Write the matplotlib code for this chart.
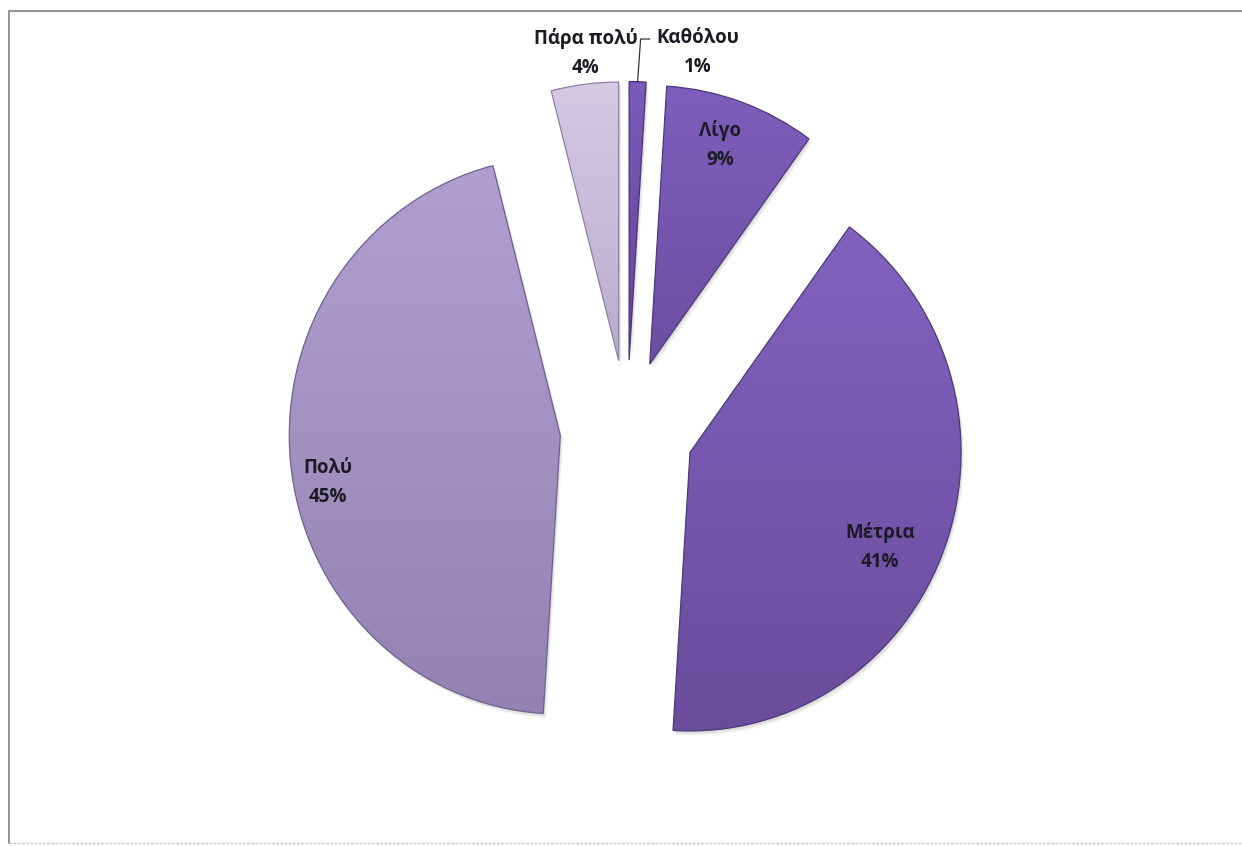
import numpy as np
import matplotlib.pyplot as plt
from matplotlib.colors import to_rgb
from matplotlib.patches import Wedge

# survey answers, clockwise from 12 o'clock
categories = ['Καθόλου', 'Λίγο', 'Μέτρια', 'Πολύ', 'Πάρα πολύ']
percent = [1, 9, 41, 45, 4]

# light (top) -> dark (bottom) fill for each slice
top_colors = ['#7b5aba', '#7e5ebc', '#8262c0', '#b0a0d0', '#d4cae4']
bottom_colors = ['#624596', '#6c4ea2', '#6a4c9c', '#9383b3', '#b8acce']
edge_colors = ['#4a3474', '#4e3878', '#4e3878', '#6e6090', '#8c82a2']

# label anchors in pixels from the top-left corner
label_pos = [(698, 53), (720, 145), (880, 547), (328, 482), (586, 53)]

W, H = 1242, 846
ky = 1.028              # the chart is drawn slightly taller than wide
R = 271
explode = 67
cx, cy = 627, (H - 429) / ky


def sy(y):
    # pixel row from the top -> data y
    return (H - y) / ky


fig = plt.figure(figsize=(W / 100, H / 100), dpi=100)
ax = fig.add_axes([0, 0, 1, 1])

wedges, _ = ax.pie(percent, startangle=90, counterclock=False,
                   center=(cx, cy), radius=R, explode=[explode] * len(percent),
                   wedgeprops=dict(linewidth=0.9), frame=True)

grad = np.linspace(0, 1, 256)[:, None, None]
for w, c0, c1, ec in zip(wedges, top_colors, bottom_colors, edge_colors):
    # soft drop shadow
    for k in range(1, 6):
        sh = Wedge((w.center[0] + k * 0.6, w.center[1] - k * 0.9), w.r,
                   w.theta1, w.theta2, facecolor='black', edgecolor='none',
                   alpha=0.035, zorder=1)
        ax.add_patch(sh)
    # vertical gradient clipped to the slice
    ext = w.get_path().get_extents()
    a, b = np.array(to_rgb(c0)), np.array(to_rgb(c1))
    img = a + (b - a) * grad
    im = ax.imshow(img, extent=(ext.x0, ext.x1, ext.y0, ext.y1), origin='upper',
                   aspect='auto', interpolation='bilinear', zorder=2)
    im.set_clip_path(w)
    w.set_facecolor('none')
    w.set_edgecolor(ec)
    w.set_zorder(3)

for cat, p, (lx, ly) in zip(categories, percent, label_pos):
    ax.text(lx, sy(ly), f'{cat}\n{p}%', ha='center', va='center',
            fontsize=13.5, fontweight='bold', family=['Open Sans', 'DejaVu Sans'],
            color='#1b1b24', linespacing=1.6, zorder=5)

# leader line for the thin first slice
w0 = wedges[0]
tm = np.deg2rad((w0.theta1 + w0.theta2) / 2)
x0 = w0.center[0] + w0.r * np.cos(tm)
y0 = w0.center[1] + w0.r * np.sin(tm)
ax.plot([x0, x0 + 3, x0 + 12], [y0, sy(39), sy(39)], color='#333333', lw=0.9, zorder=4)

# chart area border
ax.plot([9, 9, W], [sy(843), sy(11), sy(11)], color='#8a8a8a', lw=1.3, zorder=6)
ax.plot([9, W], [sy(843), sy(843)], color='#c8c8c8', lw=1.0, ls=(0, (2, 1)), zorder=6)

ax.set_xlim(0, W)
ax.set_ylim(0, H / ky)
ax.set_aspect('auto')
ax.axis('off')

fig.savefig('out.png', dpi=100, facecolor='white')
